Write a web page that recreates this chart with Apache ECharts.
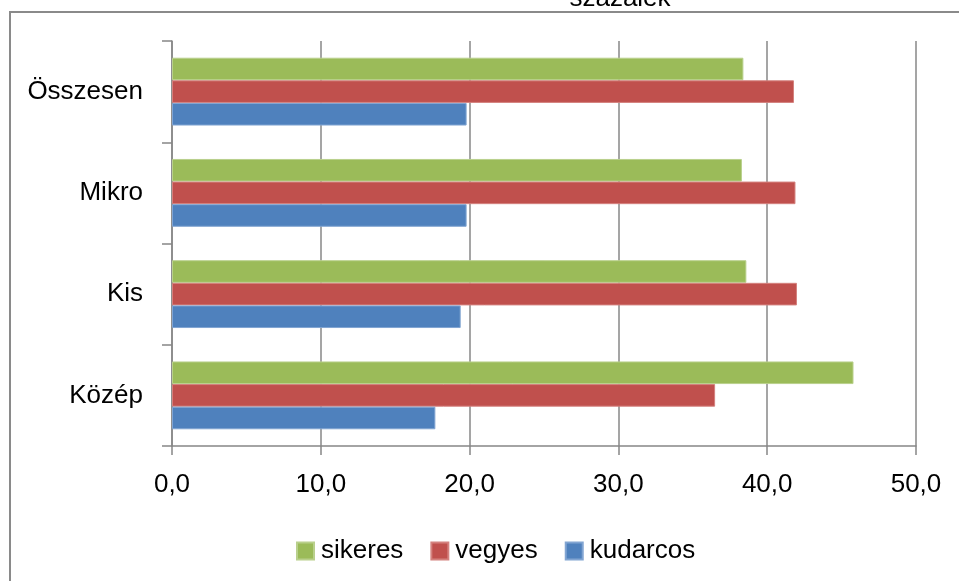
<!DOCTYPE html>
<html>
<head>
<meta charset="utf-8">
<script src="https://cdn.jsdelivr.net/npm/echarts@6/dist/echarts.min.js"></script>
<style>
  html, body { margin: 0; padding: 0; background: #fff; }
  #chart { width: 959px; height: 581px; }
</style>
</head>
<body>
<div id="chart"></div>
<script>
// Company size groups, listed bottom to top on the category axis
const categories = ['Közép', 'Kis', 'Mikro', 'Összesen'];

// Share of outcomes per group, in percent
const kudarcos = [17.7, 19.4, 19.8, 19.8];
const vegyes   = [36.5, 42.0, 41.9, 41.8];
const sikeres  = [45.8, 38.6, 38.3, 38.4];

const legendOrder = ['sikeres', 'vegyes', 'kudarcos'];
const xTicks = { min: 0, max: 50, step: 10 };

const FONT = '"Liberation Sans", Arial, sans-serif';
const GREY = '#878787';

const chart = echarts.init(document.getElementById('chart'), null, { renderer: 'canvas' });

const bar = (name, data, color, edge) => ({
  name,
  type: 'bar',
  data,
  barGap: '0%',
  barCategoryGap: '33%',
  itemStyle: { color, borderColor: edge, borderWidth: 1 },
  emphasis: { disabled: true }
});

chart.setOption({
  animation: false,
  title: {
    text: 'százalék',
    left: 615,
    textAlign: 'center',
    top: -19,
    textStyle: { fontFamily: FONT, fontSize: 26, fontWeight: 'normal', color: '#000' }
  },
  graphic: [{
    type: 'rect',
    shape: { x: 10, y: 12, width: 1000, height: 620 },
    style: { fill: 'none', stroke: '#8a8a8a', lineWidth: 2 },
    silent: true
  }],
  grid: { left: 172, right: 43, top: 41, bottom: 135, containLabel: false },
  legend: {
    data: legendOrder,
    left: 291,
    top: 533,
    icon: 'rect',
    itemWidth: 17,
    itemHeight: 17,
    itemGap: 27,
    textStyle: { fontFamily: FONT, fontSize: 26, color: '#000', padding: [0, 0, 0, 2] }
  },
  xAxis: {
    type: 'value',
    min: xTicks.min,
    max: xTicks.max,
    interval: xTicks.step,
    axisLine: { show: true, lineStyle: { color: GREY, width: 1.5 } },
    axisTick: { show: true, length: 9, lineStyle: { color: GREY, width: 1.5 } },
    splitLine: { show: true, lineStyle: { color: GREY, width: 1.5 } },
    axisLabel: {
      margin: 26,
      fontFamily: FONT,
      fontSize: 26,
      color: '#000',
      formatter: v => v.toFixed(1).replace('.', ',')
    }
  },
  yAxis: {
    type: 'category',
    data: categories,
    axisLine: { show: true, lineStyle: { color: GREY, width: 1.5 } },
    axisTick: { show: true, length: 10, lineStyle: { color: GREY, width: 1.5 } },
    splitLine: { show: false },
    axisLabel: { margin: 29, fontFamily: FONT, fontSize: 26, color: '#000' }
  },
  // the first series sits at the top of each group
  series: [
    bar('sikeres', sikeres, '#9BBB59', '#b9d08c'),
    bar('vegyes', vegyes, '#C0504D', '#d4817e'),
    bar('kudarcos', kudarcos, '#4F81BD', '#82a5d2')
  ]
});
</script>
</body>
</html>
